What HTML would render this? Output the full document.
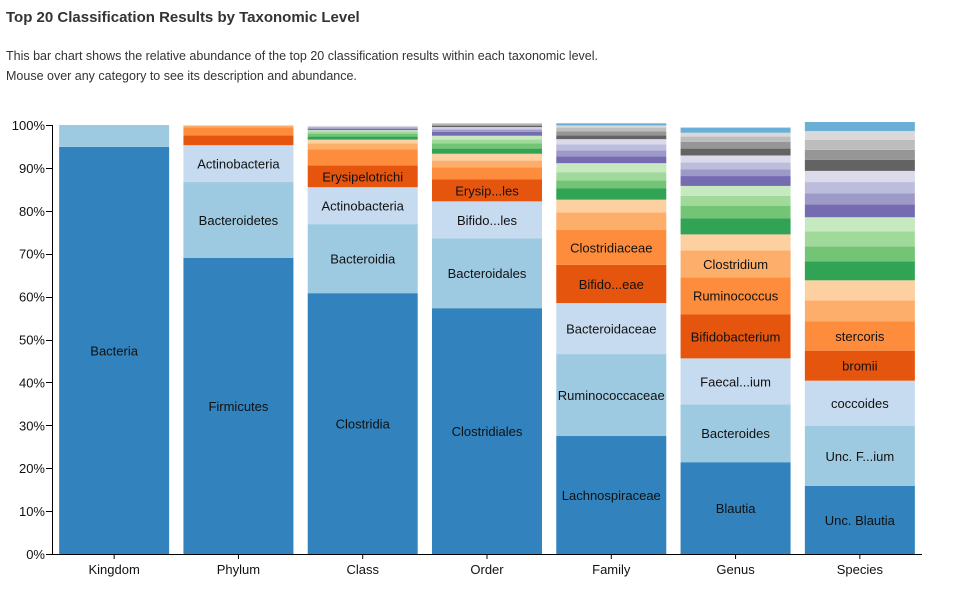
<!DOCTYPE html>
<html><head><meta charset="utf-8"><style>
body{margin:0;background:#fff;font-family:"Liberation Sans",Arial,sans-serif;color:#333;}
#wrap{position:relative;width:958px;height:611px;overflow:hidden}
h1{position:absolute;left:6px;top:9px;margin:0;font-size:15px;font-weight:bold;color:#333}
p{position:absolute;left:6px;top:46px;margin:0;font-size:12.5px;line-height:20px;color:#333}
svg{position:absolute;left:0;top:0}
svg text{font-family:"Liberation Sans",Arial,sans-serif}
</style></head><body>
<div id="wrap">
<h1>Top 20 Classification Results by Taxonomic Level</h1>
<p>This bar chart shows the relative abundance of the top 20 classification results within each taxonomic level.<br>Mouse over any category to see its description and abundance.</p>
<svg id="chart" width="958" height="611"></svg>
</div>
<script>
const categories=["Kingdom","Phylum","Class","Order","Family","Genus","Species"];
const kingdomValues=[94.9,5.1];
const phylumValues=[69.0,17.7,8.6,2.3,1.9,0.3,0.2];
const classValues=[60.8,16.1,8.6,5.1,3.7,1.4,0.9,0.7,0.7,0.5,0.3,0.3,0.3,0.2,0.2];
const orderValues=[57.3,16.3,8.6,5.1,2.8,1.6,1.6,1.2,1.2,0.9,0.9,0.9,0.5,0.3,0.3,0.3,0.3,0.3];
const familyValues=[27.5,19.1,11.9,8.9,8.2,4.0,3.0,2.6,1.9,1.9,2.1,1.6,1.4,1.4,1.2,0.9,0.9,0.9,0.5,0.5];
const genusValues=[21.4,13.5,10.7,10.3,8.6,6.3,3.7,3.7,3.0,2.3,2.3,2.3,1.6,1.6,1.6,1.6,1.6,1.2,0.9,1.2];
const speciesValues=[15.9,14.0,10.5,7.0,6.8,4.9,4.7,4.4,3.5,3.5,3.3,3.0,2.6,2.6,2.6,2.6,2.3,2.3,2.1,2.1];
const kingdomLabels=["Bacteria"];
const phylumLabels=["Firmicutes","Bacteroidetes","Actinobacteria"];
const classLabels=["Clostridia","Bacteroidia","Actinobacteria","Erysipelotrichi"];
const orderLabels=["Clostridiales","Bacteroidales","Bifido...les","Erysip...les"];
const familyLabels=["Lachnospiraceae","Ruminococcaceae","Bacteroidaceae","Bifido...eae","Clostridiaceae"];
const genusLabels=["Blautia","Bacteroides","Faecal...ium","Bifidobacterium","Ruminococcus","Clostridium"];
const speciesLabels=["Unc. Blautia","Unc. F...ium","coccoides","bromii","stercoris"];
const yTicks=[0,10,20,30,40,50,60,70,80,90,100];
const colors=["#3182bd","#9ecae1","#c6dbef","#e6550d","#fd8d3c","#fdae6b","#fdd0a2","#31a354","#74c476","#a1d99b","#c7e9c0","#756bb1","#9e9ac8","#bcbddc","#dadaeb","#636363","#969696","#bdbdbd","#d9d9d9","#6baed6"];
const allValues=[kingdomValues,phylumValues,classValues,orderValues,familyValues,genusValues,speciesValues];
const allLabels=[kingdomLabels,phylumLabels,classLabels,orderLabels,familyLabels,genusLabels,speciesLabels];
const NS="http://www.w3.org/2000/svg";
const svg=document.getElementById('chart');
const X0=52,X1=922,Y0=554,Y100=125;
const y=v=>Y0-(Y0-Y100)*v/100;
const step=(X1-X0)/categories.length, bw=110;
const x=i=>X0+step*i+(step-bw)/2;
function mk(t,a){const e=document.createElementNS(NS,t);for(const k in a)e.setAttribute(k,a[k]);svg.appendChild(e);return e;}
categories.forEach((c,i)=>{
  let cum=0;
  allValues[i].forEach((v,j)=>{
    const r=mk('rect',{x:x(i),y:y(cum+v),width:bw,height:y(cum)-y(cum+v),fill:colors[j%colors.length]});
    
    
    const lab=allLabels[i][j];
    if(lab && y(cum)-y(cum+v)>19){
      const t=mk('text',{x:x(i)+bw/2,y:(y(cum)+y(cum+v))/2+5,'text-anchor':'middle','font-size':13,fill:'#111'});
      t.textContent=lab;
      
      
    }
    cum+=v;
  });
  const tl=mk('text',{x:X0+step*i+step/2,y:574,'text-anchor':'middle','font-size':13,fill:'#111'});
  tl.textContent=c;
  
  
  const tk=mk('line',{x1:X0+step*i+step/2,x2:X0+step*i+step/2,y1:Y0,y2:Y0+5,stroke:'#000'});
  
  
});
const ya=mk('line',{x1:X0+0.5,x2:X0+0.5,y1:Y100,y2:Y0,stroke:'#000'});


const xa=mk('line',{x1:X0,x2:X1,y1:Y0+0.5,y2:Y0+0.5,stroke:'#000'});


yTicks.forEach(v=>{
  const l=mk('line',{x1:X0-6,x2:X0,y1:Math.round(y(v))+0.5,y2:Math.round(y(v))+0.5,stroke:'#000'});
  
  
  const t=mk('text',{x:X0-7,y:y(v)+5,'text-anchor':'end','font-size':13,fill:'#111'});
  t.textContent=v+'%';
  
  
});
</script>
</body></html>
